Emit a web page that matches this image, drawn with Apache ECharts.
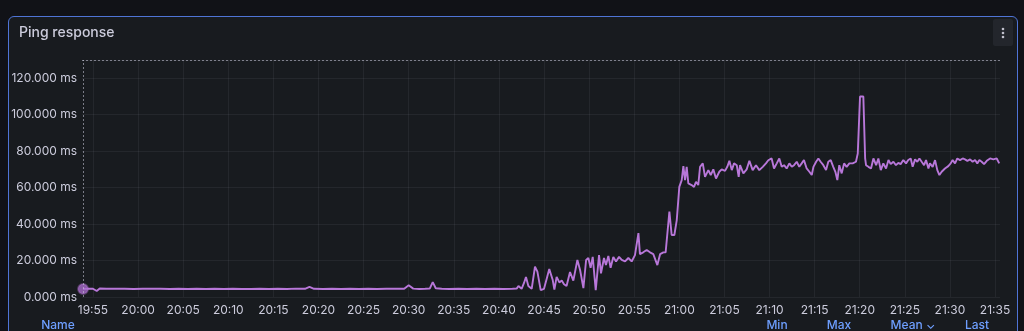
<!DOCTYPE html>
<html>
<head>
<meta charset="utf-8">
<script src="https://cdn.jsdelivr.net/npm/echarts@6/dist/echarts.min.js"></script>
<style>
  html, body { margin:0; padding:0; background:#111217; width:1024px; height:331px; overflow:hidden; }
  #panel { position:absolute; left:8px; top:16px; width:1010px; height:340px; background:#181b1f;
           border:1.5px solid #4f74d6; border-radius:6px; box-sizing:border-box; }
  #chart { position:absolute; left:0; top:0; width:1024px; height:331px; }
</style>
</head>
<body>
<div id="panel"></div>
<div id="chart"></div>
<script>
// ---- data ----
const times = [
  "19:53:54","19:54:30","19:55:00","19:55:25","19:55:45","19:56:30","19:57:30","19:58:30","19:59:30","20:00:30",
  "20:01:30","20:02:30","20:03:30","20:04:30","20:05:30","20:06:30","20:07:30","20:08:30","20:09:30","20:10:30",
  "20:11:30","20:12:30","20:13:30","20:14:30","20:15:30","20:16:30","20:17:30","20:18:30","20:19:00","20:19:30",
  "20:20:30","20:21:30","20:22:30","20:23:30","20:24:30","20:25:30","20:26:30","20:27:30","20:28:30","20:29:30",
  "20:30:00","20:30:30","20:31:10","20:31:50","20:32:20","20:32:40","20:33:00","20:33:40","20:34:30","20:35:30",
  "20:36:30","20:37:30","20:38:30","20:39:30","20:40:30","20:41:30","20:41:58",
  "20:42:10","20:42:31","20:42:47","20:43:00","20:43:16","20:43:38","20:44:00","20:44:16","20:44:38","20:45:00",
  "20:45:18","20:45:35","20:45:58","20:46:09","20:46:24","20:46:42","20:46:58","20:47:13","20:47:30","20:47:53",
  "20:48:15","20:48:42","20:49:00","20:49:22","20:49:40","20:49:55","20:50:10","20:50:24","20:50:44","20:51:06",
  "20:51:19","20:51:39","20:51:52","20:52:08","20:52:23","20:52:41","20:52:59","20:53:19","20:53:37","20:53:59",
  "20:54:21","20:54:43","20:55:05","20:55:28","20:55:38","20:56:00","20:56:23","20:56:45","20:57:07","20:57:34",
  "20:57:52","20:58:14","20:58:29","20:58:54","20:59:09","20:59:27","20:59:43","21:00:00","21:00:16","21:00:27",
  "21:00:38","21:00:49","21:01:00","21:01:22","21:01:38","21:01:51","21:02:06","21:02:18","21:02:36","21:02:51",
  "21:03:13","21:03:29","21:03:46","21:04:04","21:04:26","21:04:42","21:05:04","21:05:19","21:05:33","21:05:49",
  "21:06:04","21:06:22","21:06:35","21:06:44","21:07:06","21:07:28","21:07:46","21:08:08","21:08:30","21:08:52",
  "21:09:15","21:09:36","21:09:52","21:10:14","21:10:30","21:10:48","21:11:05","21:11:21","21:11:37","21:11:54",
  "21:12:12","21:12:28","21:12:43","21:13:01","21:13:18","21:13:34","21:13:49","21:14:07","21:14:25","21:14:41",
  "21:14:52","21:15:10","21:15:25","21:15:40","21:15:58","21:16:16","21:16:31","21:16:47","21:17:04","21:17:18",
  "21:17:31","21:17:44","21:18:00","21:18:16","21:18:33","21:18:51","21:19:13","21:19:35","21:19:47","21:20:02",
  "21:20:24","21:20:36","21:20:42","21:20:58","21:21:15","21:21:31","21:21:49","21:22:04","21:22:20","21:22:37",
  "21:22:55","21:23:11","21:23:26","21:23:44","21:24:01","21:24:17","21:24:32","21:24:50","21:25:08","21:25:23",
  "21:25:39","21:25:52","21:26:08","21:26:23","21:26:37","21:26:52","21:27:08","21:27:21","21:27:37","21:27:47",
  "21:28:05","21:28:21","21:28:36","21:28:50","21:29:05","21:29:27","21:29:49","21:30:05","21:30:18","21:30:34",
  "21:30:49","21:31:07","21:31:25","21:31:40","21:31:56","21:32:14","21:32:31","21:32:47","21:33:02","21:33:16",
  "21:33:31","21:33:47","21:34:05","21:34:27","21:34:49","21:35:11","21:35:28"
];
const values = [
  4.4,4.6,4.5,3.3,4.7,4.5,4.6,4.5,4.4,4.5,
  4.6,4.5,4.4,4.5,4.4,4.5,4.4,4.5,4.4,4.5,
  4.4,4.4,4.5,4.4,4.5,4.4,4.6,4.5,5.6,4.5,
  4.4,4.5,4.4,4.5,4.4,4.5,4.4,4.5,4.6,4.5,
  6.4,4.6,4.4,4.5,4.6,8.2,4.8,4.5,4.4,4.5,
  4.4,4.5,4.4,4.5,4.4,4.5,4.6,
  6.0,4.5,7.7,11.0,6.0,4.5,16.6,13.9,3.8,4.5,
  10.0,15.3,9.3,4.0,11.0,8.0,9.0,7.0,6.0,13.7,
  9.0,20.3,14.8,4.9,20.3,21.4,16.0,22.0,3.8,23.0,
  13.0,21.4,17.5,22.5,16.0,21.9,19.5,22.0,20.3,19.5,
  21.4,19.5,23.0,35.0,23.5,24.5,25.8,24.5,23.5,17.5,
  23.5,24.5,24.5,46.8,34.0,34.0,42.2,60.4,64.1,71.8,
  64.1,71.4,62.3,61.4,60.4,63.2,61.4,71.4,73.3,65.9,
  69.6,66.9,70.0,65.0,68.7,70.0,69.2,71.4,74.7,69.6,
  73.3,72.3,65.9,72.3,67.8,70.0,74.7,69.6,72.3,69.6,
  71.4,73.3,75.0,76.0,70.5,73.3,76.0,71.4,72.3,70.5,
  73.3,71.4,72.3,74.2,71.4,73.3,75.1,70.5,68.7,66.9,
  71.4,74.2,76.0,74.2,72.3,69.6,74.2,75.1,71.4,68.7,
  64.1,72.3,67.8,73.3,71.4,73.3,73.3,74.2,78.7,110.0,
  110.0,76.0,72.3,71.4,70.5,76.0,72.3,76.0,69.6,73.3,
  70.5,75.1,72.9,74.2,72.3,73.6,72.9,75.1,73.3,75.1,
  76.0,71.4,75.5,74.2,76.0,74.2,72.3,75.1,70.5,73.3,
  71.4,75.1,69.6,66.9,68.7,70.5,71.8,73.3,75.1,73.3,
  76.0,75.1,76.0,75.5,74.7,75.5,74.2,75.1,73.3,75.1,
  74.2,72.9,74.7,76.0,75.5,76.0,73.3
];
const xTickLabels = ["19:55","20:00","20:05","20:10","20:15","20:20","20:25","20:30","20:35","20:40","20:45",
                     "20:50","20:55","21:00","21:05","21:10","21:15","21:20","21:25","21:30","21:35"];
const yTicks = [0, 20, 40, 60, 80, 100, 120];
const xRange = ["19:53:47", "21:35:33"];
const yRange = [0, 130];
const legendHeaders = ["Name", "Min", "Max", "Mean \u2304", "Last"];

// ---- helpers ----
function T(s) { const p = s.split(':').map(Number); return Date.UTC(2024, 0, 15, p[0], p[1], p[2] || 0); }
function pad(n) { return (n < 10 ? '0' : '') + n; }
function fmt(v) { const d = new Date(v); return pad(d.getUTCHours()) + ':' + pad(d.getUTCMinutes()); }

const seriesData = times.map((t, i) => [T(t), values[i]]);
const xTickValues = xTickLabels.map(T);
const font = 'Inter, "Noto Sans", sans-serif';
const textColor = '#ccccdc';
const gridColor = 'rgba(204,204,220,0.07)';

const chart = echarts.init(document.getElementById('chart'), null, { renderer: 'canvas' });
const legendX = [58, 777, 839, 913, 977];

chart.setOption({
  animation: false,
  backgroundColor: 'transparent',
  title: {
    text: 'Ping response', left: 19, top: 26, padding: 0,
    textStyle: { color: textColor, fontSize: 14, fontWeight: 500, fontFamily: font }
  },
  grid: { left: 82, right: 24, top: 60, bottom: 34, containLabel: false },
  xAxis: {
    type: 'value',
    min: T(xRange[0]), max: T(xRange[1]),
    axisLine: { show: false },
    axisTick: { show: false, customValues: xTickValues },
    splitLine: { show: true, customValues: xTickValues, lineStyle: { color: gridColor, width: 1 } },
    axisLabel: {
      color: textColor, fontSize: 12, fontFamily: font, margin: 7, hideOverlap: false,
      customValues: xTickValues,
      formatter: fmt
    }
  },
  yAxis: {
    type: 'value', min: yRange[0], max: yRange[1], interval: yTicks[1] - yTicks[0],
    axisLine: { show: false }, axisTick: { show: false },
    splitLine: { show: true, lineStyle: { color: gridColor, width: 1 } },
    axisLabel: {
      color: textColor, fontSize: 12, fontFamily: font, margin: 5, showMaxLabel: false,
      formatter: function (v) { return yTicks.indexOf(v) >= 0 ? v.toFixed(3) + ' ms' : ''; }
    }
  },
  series: [
    {
      type: 'line', data: seriesData, showSymbol: false, symbol: 'none',
      lineStyle: { color: '#b877d9', width: 1.9 },
      z: 3,
      markLine: {
        silent: true, symbol: 'none', animation: false,
        label: { show: false },
        lineStyle: { type: [2, 2], color: 'rgba(204,204,220,0.55)', width: 1 },
        data: [ { xAxis: T(times[0]) }, { yAxis: yRange[1] } ]
      }
    },
    {
      type: 'scatter', data: [[T(times[0]), values[0]]], symbolSize: 10, z: 4,
      itemStyle: { color: '#a86ccb', borderColor: 'rgba(184,119,217,0.45)', borderWidth: 2 }
    }
  ],
  graphic: [
    { type: 'rect', shape: { x: 993, y: 19, width: 20, height: 27, r: 2 }, style: { fill: '#23262c' }, silent: true },
    { type: 'circle', shape: { cx: 1003, cy: 29, r: 1.3 }, style: { fill: '#c0c0cc' }, silent: true },
    { type: 'circle', shape: { cx: 1003, cy: 33, r: 1.3 }, style: { fill: '#c0c0cc' }, silent: true },
    { type: 'circle', shape: { cx: 1003, cy: 37, r: 1.3 }, style: { fill: '#c0c0cc' }, silent: true }
  ].concat(legendHeaders.map((h, i) => ({
    type: 'text', silent: true,
    style: { text: h, x: legendX[i], y: 325, align: 'center', verticalAlign: 'middle',
             fill: '#6e9fff', font: '500 12px ' + font }
  })))
});
</script>
</body>
</html>
